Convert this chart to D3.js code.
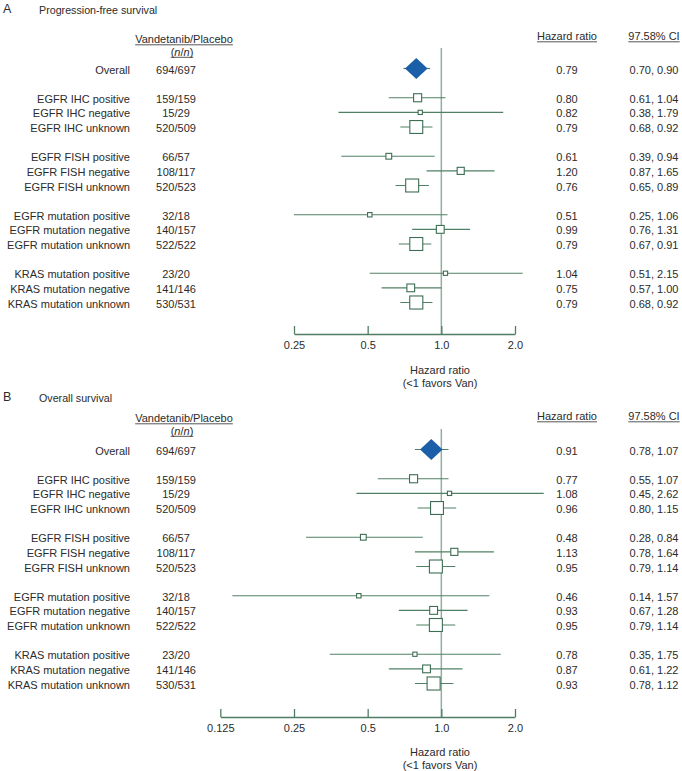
<!DOCTYPE html>
<html><head><meta charset="utf-8">
<script src="https://cdn.jsdelivr.net/npm/d3@7"></script>
<style>
html,body{margin:0;padding:0;background:#fff;}
svg{display:block;font-family:"Liberation Sans",Arial,Helvetica,sans-serif;}
</style></head>
<body>
<svg id="chart" width="682" height="771"></svg>
<script>
// ---- Data ----
const subgroups = ["Overall","EGFR IHC positive","EGFR IHC negative","EGFR IHC unknown",
  "EGFR FISH positive","EGFR FISH negative","EGFR FISH unknown",
  "EGFR mutation positive","EGFR mutation negative","EGFR mutation unknown",
  "KRAS mutation positive","KRAS mutation negative","KRAS mutation unknown"];
const rowIndex = [0,2,3,4,6,7,8,10,11,12,14,15,16];
const nVandetanib = [694,159,15,520,66,108,520,32,140,522,23,141,530];
const nPlacebo    = [697,159,29,509,57,117,523,18,157,522,20,146,531];
const pfsHR   = [0.79,0.80,0.82,0.79,0.61,1.20,0.76,0.51,0.99,0.79,1.04,0.75,0.79];
const pfsLow  = [0.70,0.61,0.38,0.68,0.39,0.87,0.65,0.25,0.76,0.67,0.51,0.57,0.68];
const pfsHigh = [0.90,1.04,1.79,0.92,0.94,1.65,0.89,1.06,1.31,0.91,2.15,1.00,0.92];
const osHR    = [0.91,0.77,1.08,0.96,0.48,1.13,0.95,0.46,0.93,0.95,0.78,0.87,0.93];
const osLow   = [0.78,0.55,0.45,0.80,0.28,0.78,0.79,0.14,0.67,0.79,0.35,0.61,0.78];
const osHigh  = [1.07,1.07,2.62,1.15,0.84,1.64,1.14,1.57,1.28,1.14,1.75,1.22,1.12];
const pfsTicks = [0.25,0.5,1.0,2.0];
const osTicks  = [0.125,0.25,0.5,1.0,2.0];
const tickLabels = {0.125:"0.125",0.25:"0.25",0.5:"0.5",1:"1.0",2:"2.0"};

// ---- Layout ----
const svg = d3.select("#chart");
const textCol = "#2b2b2b";
const diamondCol = "#1b5fa9";
const boxCol = "#3d6e53";
const ciCol = "#4f8065";
const refCol = "#8fb09c";
const axisCol = "#4f7d63";

const sizeScale = d3.scaleSqrt().domain([0,1050]).range([2,13]);

const panels = [
  {letter:"A", title:"Progression-free survival", hr:pfsHR, lo:pfsLow, hi:pfsHigh, ticks:pfsTicks,
   domain:[0.25,2], titleY:13, headY:43, hrHeadY:40, rows:[68.5,302.5], refTop:48, axisY:334, axTitleY:374},
  {letter:"B", title:"Overall survival", hr:osHR, lo:osLow, hi:osHigh, ticks:osTicks,
   domain:[0.125,2], titleY:401, headY:422, hrHeadY:420, rows:[449.5,683.5], refTop:429, axisY:717, axTitleY:756}
];

const xFor = d3.scaleLog().base(2).domain([0.25,2]).range([294,515]);

function underlined(g, x, y, txt, anchor){
  const t = g.append("text").attr("x",x).attr("y",y).attr("text-anchor",anchor)
    .attr("font-size",11).attr("fill",textCol).text(txt);
  const w = t.node().getComputedTextLength();
  const x0 = anchor==="middle" ? x - w/2 : x;
  g.append("line").attr("x1",x0).attr("x2",x0+w).attr("y1",y+1.8).attr("y2",y+1.8)
    .attr("stroke",textCol).attr("stroke-width",0.8);
  return t;
}

panels.forEach(p => {
  const g = svg.append("g");
  const x = d3.scaleLog().base(2).domain(p.domain).range([xFor(p.domain[0]), xFor(p.domain[1])]);
  const y = d3.scaleLinear().domain([0,16]).range(p.rows);

  g.append("text").attr("x",3).attr("y",p.titleY).attr("font-size",12.5).attr("fill",textCol).text(p.letter);
  g.append("text").attr("x",39).attr("y",p.titleY+0.5).attr("font-size",10.7).attr("fill",textCol).text(p.title);

  // headers
  underlined(g, 184, p.headY, "Vandetanib/Placebo", "middle");
  const nn = g.append("text").attr("x",182).attr("y",p.headY+12.5).attr("text-anchor","middle")
    .attr("font-size",11).attr("fill",textCol);
  nn.append("tspan").text("(");
  nn.append("tspan").attr("font-style","italic").text("n");
  nn.append("tspan").text("/");
  nn.append("tspan").attr("font-style","italic").text("n");
  nn.append("tspan").text(")");
  const nw = nn.node().getComputedTextLength();
  g.append("line").attr("x1",182-nw/2).attr("x2",182+nw/2).attr("y1",p.headY+14.3).attr("y2",p.headY+14.3)
    .attr("stroke",textCol).attr("stroke-width",0.8);
  underlined(g, 567, p.hrHeadY, "Hazard ratio", "middle");
  underlined(g, 654, p.hrHeadY, "97.58% CI", "middle");

  // reference line
  g.append("line").attr("x1",x(1)).attr("x2",x(1)).attr("y1",p.refTop).attr("y2",p.axisY)
    .attr("stroke",refCol).attr("stroke-width",1.5);

  // axis
  const axis = d3.axisBottom(x).tickValues(p.ticks).tickFormat(d=>tickLabels[d])
    .tickSizeInner(-8).tickSizeOuter(0).tickPadding(7);
  const ag = g.append("g").attr("transform",`translate(0,${p.axisY})`).call(axis);
  ag.select(".domain").attr("stroke",axisCol).attr("stroke-width",1.3);
  ag.selectAll(".tick line").attr("stroke",axisCol).attr("stroke-width",1.3);
  ag.selectAll(".tick text").attr("fill",textCol).attr("font-size",11)
    .attr("font-family","Liberation Sans, Arial, sans-serif");

  g.append("text").attr("x",440).attr("y",p.axTitleY).attr("text-anchor","middle")
    .attr("font-size",11).attr("fill",textCol).text("Hazard ratio");
  g.append("text").attr("x",440).attr("y",p.axTitleY+12.5).attr("text-anchor","middle")
    .attr("font-size",11).attr("fill",textCol).text("(<1 favors Van)");

  subgroups.forEach((name,i) => {
    const yy = y(rowIndex[i]);
    g.append("text").attr("x",130).attr("y",yy+5).attr("text-anchor","end")
      .attr("font-size",11).attr("fill",textCol).text(name);
    g.append("text").attr("x",176).attr("y",yy+5).attr("text-anchor","middle")
      .attr("font-size",11).attr("fill",textCol).text(nVandetanib[i]+"/"+nPlacebo[i]);
    g.append("text").attr("x",567).attr("y",yy+5).attr("text-anchor","middle")
      .attr("font-size",11).attr("fill",textCol).text(p.hr[i].toFixed(2));
    g.append("text").attr("x",654).attr("y",yy+5).attr("text-anchor","middle")
      .attr("font-size",11).attr("fill",textCol).text(p.lo[i].toFixed(2)+", "+p.hi[i].toFixed(2));

    g.append("line").attr("x1",x(p.lo[i])).attr("x2",x(p.hi[i])).attr("y1",yy).attr("y2",yy)
      .attr("stroke",ciCol).attr("stroke-width",1.2);
    const cx = x(p.hr[i]);
    if (i === 0) {
      const hw = 11.3, hh = 10.5;
      g.append("path").attr("d",`M${cx-hw},${yy}L${cx},${yy-hh}L${cx+hw},${yy}L${cx},${yy+hh}Z`)
        .attr("fill",diamondCol);
    } else {
      const s = sizeScale(nVandetanib[i]+nPlacebo[i]);
      g.append("rect").attr("x",cx-s/2).attr("y",yy-s/2).attr("width",s).attr("height",s)
        .attr("fill","#fff").attr("stroke",boxCol).attr("stroke-width",1.1);
    }
  });
});
</script>
</body></html>
